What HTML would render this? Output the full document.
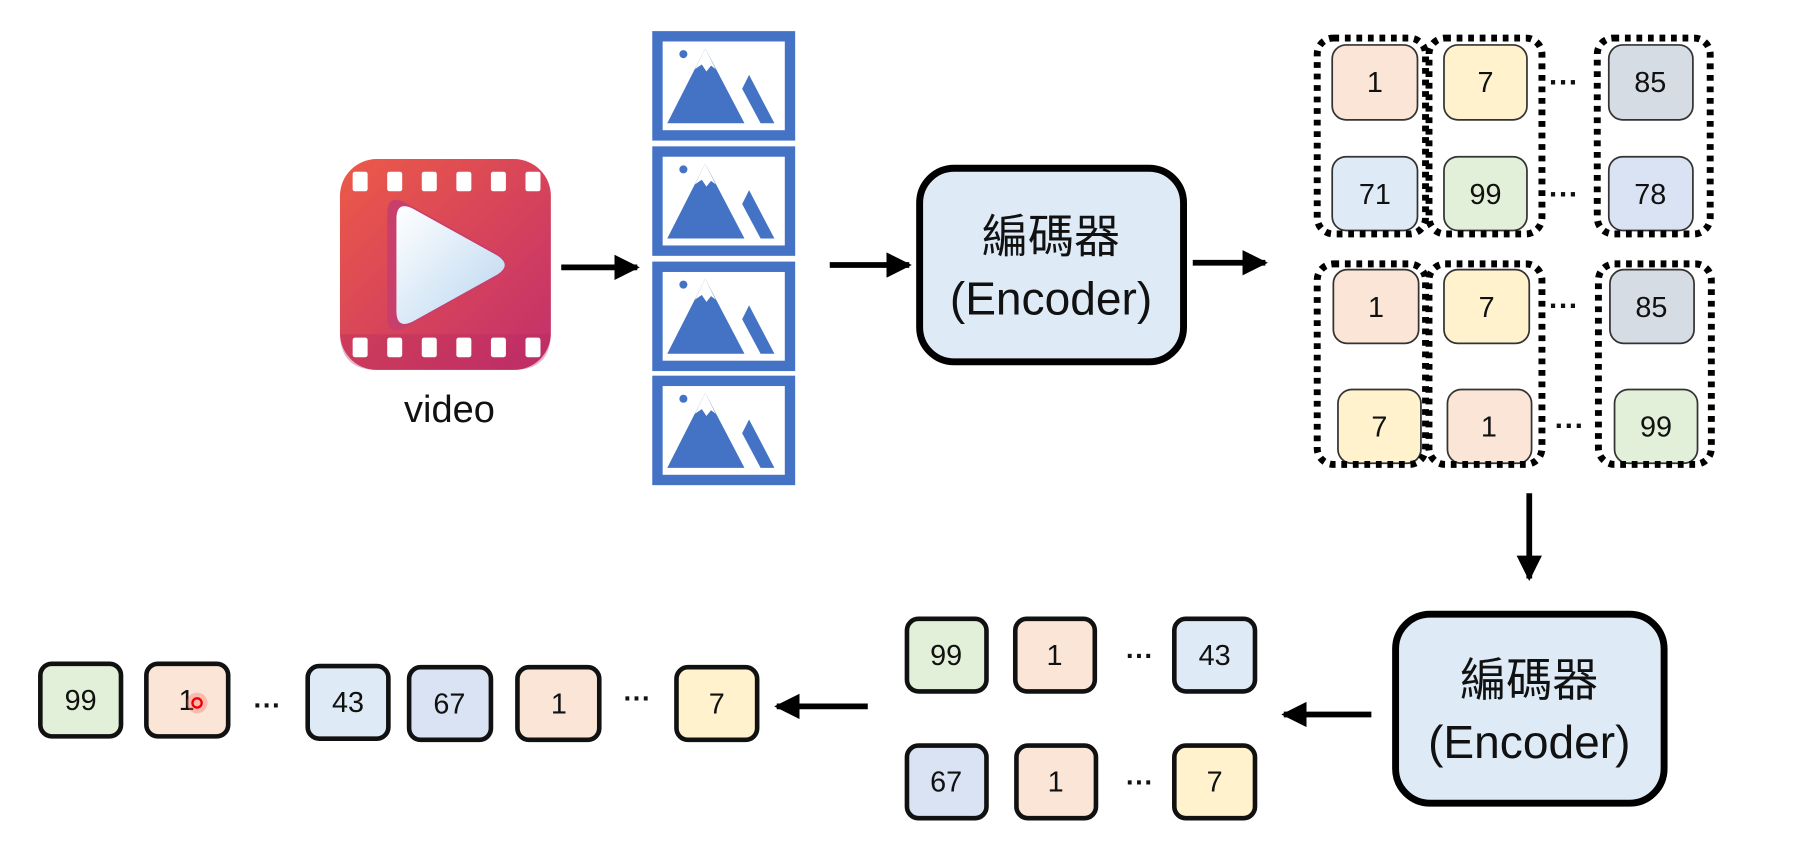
<!DOCTYPE html>
<html><head><meta charset="utf-8"><style>
html,body{margin:0;padding:0;background:#fff;}
svg{display:block;}
text{font-family:"Liberation Sans","Noto Sans CJK TC",sans-serif;fill:#111;}
</style></head><body>
<svg width="1807" height="844" viewBox="0 0 1568 732.4" preserveAspectRatio="none" xmlns="http://www.w3.org/2000/svg">
<defs>
<linearGradient id="vg" x1="0" y1="0" x2="1" y2="1">
<stop offset="0" stop-color="#EC5A48"/><stop offset="1" stop-color="#C22F6C"/></linearGradient>
<linearGradient id="pg" x1="0" y1="0" x2="1" y2="1">
<stop offset="0" stop-color="#FFFFFF"/><stop offset="1" stop-color="#B9D6F0"/></linearGradient>
<marker id="ah" viewBox="0 0 10 10" refX="9" refY="5" markerWidth="4.4" markerHeight="4.4" orient="auto" markerUnits="strokeWidth">
<path d="M0,0 L10,5 L0,10 z" fill="#000"/></marker>
<g id="img">
<rect x="4.5" y="4.5" width="115" height="86" fill="#fff" stroke="#4472C4" stroke-width="9"/>
<circle cx="27" cy="20" r="3.5" fill="#4472C4"/>
<path d="M13,80 L46,15 L80,80 Z" fill="#4472C4"/>
<path d="M37,33 L46,15 L55,33 L51,30 L47,35 L43,29 Z" fill="#fff"/>
<path d="M84,38 L106,80 L94,80 L78,50 Z" fill="#4472C4"/>
</g>
</defs>

<!-- video icon -->
<rect x="295" y="138" width="183" height="183" rx="32" fill="url(#vg)"/>
<path d="M295,290 L478,290 L478,289 Q478,321 446,321 L327,321 Q295,321 295,289 Z" fill="#B5285E" opacity="0.35"/>
<g fill="#fff">
<rect x="306" y="149" width="13" height="17" rx="2"/><rect x="336" y="149" width="13" height="17" rx="2"/><rect x="366" y="149" width="13" height="17" rx="2"/><rect x="396" y="149" width="13" height="17" rx="2"/><rect x="426" y="149" width="13" height="17" rx="2"/><rect x="456" y="149" width="13" height="17" rx="2"/>
<rect x="306" y="293" width="13" height="17" rx="2"/><rect x="336" y="293" width="13" height="17" rx="2"/><rect x="366" y="293" width="13" height="17" rx="2"/><rect x="396" y="293" width="13" height="17" rx="2"/><rect x="426" y="293" width="13" height="17" rx="2"/><rect x="456" y="293" width="13" height="17" rx="2"/>
</g>
<path d="M336,185 Q336,168 352,176 L432,220 Q446,230 432,240 L352,284 Q336,292 336,275 Z" fill="#C93F6B"/>
<path d="M344,190 Q344,173 360,182 L432,222 Q444,230 432,238 L360,278 Q344,287 344,270 Z" fill="url(#pg)"/>
<text x="390" y="366" font-size="33" text-anchor="middle">video</text>

<!-- arrows -->
<g stroke="#000" stroke-width="5" fill="none">
<line x1="487" y1="232" x2="553" y2="232" marker-end="url(#ah)"/>
<line x1="720" y1="230" x2="789" y2="230" marker-end="url(#ah)"/>
<line x1="1035" y1="228" x2="1098" y2="228" marker-end="url(#ah)"/>
<line x1="1327" y1="428" x2="1327" y2="502" marker-end="url(#ah)"/>
<line x1="1190" y1="620" x2="1114" y2="620" marker-end="url(#ah)"/>
<line x1="753" y1="613" x2="674" y2="613" marker-end="url(#ah)"/>
</g>

<!-- image frames -->
<use href="#img" x="566" y="27"/>
<use href="#img" x="566" y="127"/>
<use href="#img" x="566" y="227"/>
<use href="#img" x="566" y="326"/>

<!-- encoder 1 -->
<rect x="798" y="146" width="229" height="168" rx="30" fill="#DEEBF7" stroke="#000" stroke-width="6"/>
<text x="912" y="219" font-size="40" text-anchor="middle">編碼器</text>
<text x="912" y="273" font-size="40" text-anchor="middle">(Encoder)</text>

<!-- encoder 2 -->
<rect x="1211" y="533" width="233" height="164" rx="30" fill="#DEEBF7" stroke="#000" stroke-width="6"/>
<text x="1327" y="604" font-size="40" text-anchor="middle">編碼器</text>
<text x="1327" y="658" font-size="40" text-anchor="middle">(Encoder)</text>

<!-- token grid -->
<g stroke="#333" stroke-width="1.5">
<rect x="1156" y="39" width="74" height="65" rx="12" fill="#FBE5D6"/>
<rect x="1253" y="39" width="72" height="65" rx="12" fill="#FFF2CC"/>
<rect x="1396" y="39" width="73" height="65" rx="12" fill="#D6DCE4"/>
<rect x="1156" y="136" width="74" height="64" rx="12" fill="#DEEBF7"/>
<rect x="1253" y="136" width="72" height="64" rx="12" fill="#E2F0D9"/>
<rect x="1396" y="136" width="73" height="64" rx="12" fill="#DAE3F3"/>
<rect x="1157" y="234" width="74" height="64" rx="12" fill="#FBE5D6"/>
<rect x="1253" y="234" width="74" height="64" rx="12" fill="#FFF2CC"/>
<rect x="1397" y="234" width="73" height="64" rx="12" fill="#D6DCE4"/>
<rect x="1161" y="338" width="72" height="64" rx="12" fill="#FFF2CC"/>
<rect x="1256" y="338" width="73" height="64" rx="12" fill="#FBE5D6"/>
<rect x="1401" y="338" width="72" height="64" rx="12" fill="#E2F0D9"/>
</g>
<g stroke="#000" stroke-width="6" stroke-dasharray="5 5" fill="none">
<rect x="1143" y="33" width="94" height="170" rx="14"/>
<rect x="1240" y="33" width="98" height="170" rx="14"/>
<rect x="1386" y="33" width="98" height="170" rx="14"/>
<rect x="1143" y="229" width="94" height="174" rx="14"/>
<rect x="1240" y="229" width="98" height="174" rx="14"/>
<rect x="1387" y="229" width="98" height="174" rx="14"/>
</g>
<g font-size="25" text-anchor="middle">
<text x="1193" y="80">1</text><text x="1289" y="80">7</text><text x="1432" y="80">85</text>
<text x="1193" y="177">71</text><text x="1289" y="177">99</text><text x="1432" y="177">78</text>
<text x="1194" y="275">1</text><text x="1290" y="275">7</text><text x="1433" y="275">85</text>
<text x="1197" y="379">7</text><text x="1292" y="379">1</text><text x="1437" y="379">99</text>
</g>
<g font-size="26" font-weight="bold" text-anchor="middle">
<text x="1357" y="80">···</text><text x="1357" y="177">···</text>
<text x="1357" y="274">···</text><text x="1362" y="378">···</text>
</g>

<!-- middle tokens -->
<g stroke="#111" stroke-width="4">
<rect x="787" y="537" width="69" height="63" rx="10" fill="#E2F0D9"/>
<rect x="881" y="537" width="69" height="63" rx="10" fill="#FBE5D6"/>
<rect x="1019" y="537" width="70" height="63" rx="10" fill="#DEEBF7"/>
<rect x="787" y="647" width="69" height="63" rx="10" fill="#DAE3F3"/>
<rect x="882" y="647" width="69" height="63" rx="10" fill="#FBE5D6"/>
<rect x="1019" y="647" width="70" height="63" rx="10" fill="#FFF2CC"/>
</g>
<g font-size="25" text-anchor="middle">
<text x="821" y="577">99</text><text x="915" y="577">1</text><text x="1054" y="577">43</text>
<text x="821" y="687">67</text><text x="916" y="687">1</text><text x="1054" y="687">7</text>
</g>
<g font-size="24" font-weight="bold" text-anchor="middle">
<text x="989" y="577">···</text><text x="989" y="687">···</text>
</g>

<!-- bottom row -->
<g stroke="#111" stroke-width="4">
<rect x="35" y="576" width="70" height="63" rx="10" fill="#E2F0D9"/>
<rect x="127" y="576" width="71" height="63" rx="10" fill="#FBE5D6"/>
<rect x="267" y="578" width="70" height="63" rx="10" fill="#DEEBF7"/>
<rect x="355" y="579" width="71" height="63" rx="10" fill="#DAE3F3"/>
<rect x="449" y="579" width="71" height="63" rx="10" fill="#FBE5D6"/>
<rect x="587" y="579" width="70" height="63" rx="10" fill="#FFF2CC"/>
</g>
<g font-size="25" text-anchor="middle">
<text x="70" y="616">99</text><text x="162" y="616">1</text><text x="302" y="618">43</text>
<text x="390" y="619">67</text><text x="485" y="619">1</text><text x="622" y="619">7</text>
</g>
<g font-size="24" font-weight="bold" text-anchor="middle">
<text x="232" y="620">···</text><text x="553" y="614">···</text>
</g>
<circle cx="171" cy="610" r="9" fill="#F66" opacity="0.35"/>
<circle cx="171" cy="610" r="4" fill="none" stroke="#E00" stroke-width="2"/>
</svg>
</body></html>
